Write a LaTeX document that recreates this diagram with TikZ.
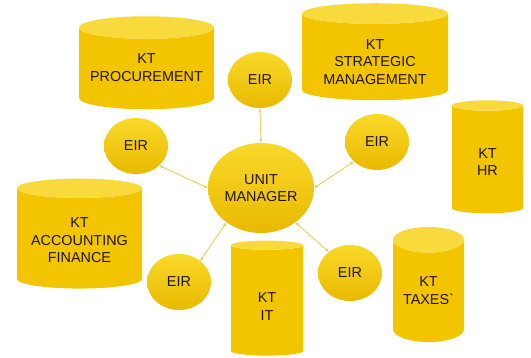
\documentclass[tikz,border=0pt]{standalone}
\usepackage{fontspec}
\setsansfont{Liberation Sans}
\usetikzlibrary{positioning,shapes.geometric,arrows.meta}
\definecolor{ktbody}{HTML}{F2C500}
\definecolor{ktend}{HTML}{F8DA3C}
\definecolor{eirlight}{HTML}{F9D92A}
\definecolor{eirdark}{HTML}{E9B900}
\definecolor{linkcol}{HTML}{E6CE62}
\definecolor{txt}{HTML}{1E1200}
\newcommand{\ktgap}[1]{\mbox{}\\[#1]}

\begin{document}
\begin{tikzpicture}[
		x=1pt, y=-1pt,
		every node/.style={font=\sffamily\fontsize{14.4}{17.5}\selectfont, text=txt, align=center},
		kt/.style={cylinder, shape border rotate=90, aspect=0.2, inner sep=0pt,
			cylinder uses custom fill, cylinder body fill=ktbody, cylinder end fill=ktend},
		eir/.style={ellipse, inner sep=0pt, minimum width=64pt, minimum height=56pt,
			top color=eirlight, bottom color=eirdark},
		arrow/.style={{Latex[length=3.5pt,width=3.5pt]}-{Latex[length=3.5pt,width=3.5pt]}, draw=linkcol, line width=0.9pt}
	]
	\useasboundingbox (0,0) rectangle (531,358);

	% Knowledge stores
	\node[kt, minimum width=135pt, minimum height=93pt] (PROC) at (146.5,68.5) {\ktgap{-9.2pt}KT\\PROCUREMENT};
	\node[kt, minimum width=146pt, minimum height=97pt] (STRAT) at (375,57) {\ktgap{2pt}KT\\STRATEGIC\\MANAGEMENT};
	\node[kt, aspect=0.5, minimum width=71pt, minimum height=113pt] (HR) at (487.5,159.5) {\ktgap{-2.2pt}KT\\HR};
	\node[kt, minimum width=125pt, minimum height=110pt] (ACC) at (79.5,238.5) {\ktgap{-4.2pt}KT\\ACCOUNTING\\FINANCE};
	\node[kt, aspect=0.5, minimum width=72pt, minimum height=115pt] (IT) at (267,300.5) {\ktgap{4.8pt}KT\\IT};
	\node[kt, aspect=0.5, minimum width=71pt, minimum height=115pt] (TAX) at (428.5,291) {\ktgap{-8.2pt}KT\\TAXES\textasciigrave};

	% Centre and EIR nodes
	\node[eir, minimum width=106pt, minimum height=90pt] (UM) at (261,188) {UNIT\\MANAGER};
	\node[eir] (EIRT) at (260,80) {EIR};
	\node[eir] (EIRL) at (136,146) {EIR};
	\node[eir] (EIRR) at (377,142) {EIR};
	\node[eir] (EIRBL) at (179,282) {EIR};
	\node[eir] (EIRBR) at (350,273) {EIR};

	% Arrows
	\draw[arrow] (UM.north) -- (EIRT.south);
	\draw[arrow] (UM.west) -- (EIRL.320);
	\draw[arrow] (UM.east) -- (EIRR.220);
	\draw[arrow] (UM.225) -- (EIRBL.45);
	\draw[arrow] (UM.-45) -- (EIRBR.135);

\end{tikzpicture}
\end{document}
